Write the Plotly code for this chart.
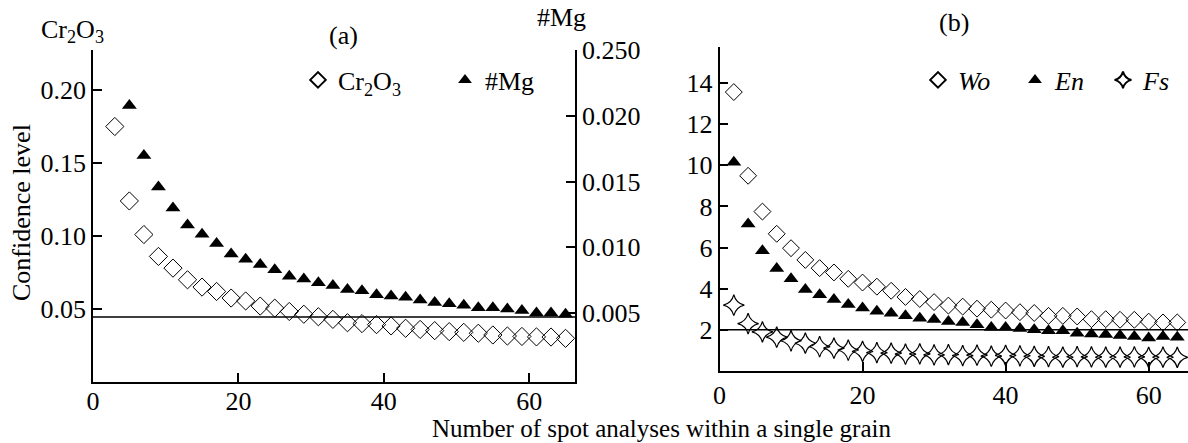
import plotly.graph_objects as go

# ---------------- data ----------------
# Panel (a)
spots_cr2o3 = [3, 5, 7, 9, 11, 13, 15, 17, 19, 21, 23, 25, 27, 29, 31, 33,
               35, 37, 39, 41, 43, 45, 47, 49, 51, 53, 55, 57, 59, 61, 63, 65]
cr2o3 = [0.175, 0.124, 0.101, 0.086, 0.078, 0.070, 0.065, 0.062, 0.0575, 0.0555,
         0.052, 0.0506, 0.0483, 0.0464, 0.0447, 0.0429, 0.0406, 0.0400, 0.0393,
         0.0384, 0.0368, 0.0360, 0.0352, 0.0345, 0.0340, 0.0334, 0.0322, 0.0315,
         0.0312, 0.0309, 0.0308, 0.0299]
spots_mg = [5, 7, 9, 11, 13, 15, 17, 19, 21, 23, 25, 27, 29, 31, 33, 35,
            37, 39, 41, 43, 45, 47, 49, 51, 53, 55, 57, 59, 61, 63, 65]
mg_number = [0.0208, 0.0170, 0.0146, 0.0130, 0.0117, 0.0110, 0.0103, 0.0095,
             0.0091, 0.0087, 0.0083, 0.0078, 0.0076, 0.0073, 0.0071, 0.0068,
             0.0067, 0.0064, 0.0063, 0.0062, 0.0060, 0.0058, 0.0057, 0.0056,
             0.0054, 0.0054, 0.0053, 0.0052, 0.0050, 0.0050, 0.0049]
level_a = 0.0445

# Panel (b)
spots_b = [2, 4, 6, 8, 10, 12, 14, 16, 18, 20, 22, 24, 26, 28, 30, 32,
           34, 36, 38, 40, 42, 44, 46, 48, 50, 52, 54, 56, 58, 60, 62, 64]
wo = [13.56, 9.49, 7.75, 6.67, 5.97, 5.40, 5.00, 4.79, 4.48, 4.30, 4.10, 3.90,
      3.60, 3.50, 3.35, 3.18, 3.13, 3.03, 2.98, 2.94, 2.86, 2.82, 2.68, 2.68,
      2.65, 2.52, 2.52, 2.49, 2.49, 2.40, 2.36, 2.36]
en = [10.15, 7.15, 5.85, 4.98, 4.49, 3.96, 3.71, 3.47, 3.23, 3.06, 2.90, 2.81,
      2.68, 2.57, 2.50, 2.41, 2.36, 2.25, 2.12, 2.12, 2.06, 2.01, 1.96, 1.96,
      1.84, 1.80, 1.77, 1.73, 1.68, 1.60, 1.68, 1.64]
fs = [3.20, 2.30, 1.90, 1.65, 1.47, 1.35, 1.18, 1.11, 1.02, 0.95, 0.89, 0.87,
      0.82, 0.83, 0.78, 0.80, 0.75, 0.77, 0.72, 0.76, 0.74, 0.71, 0.70, 0.67,
      0.70, 0.69, 0.67, 0.67, 0.69, 0.66, 0.67, 0.66]
level_b = 2.0

xticks_a = [0, 20, 40, 60]
yticks_a = [0.05, 0.10, 0.15, 0.20]
yticks_a_text = ["0.05", "0.10", "0.15", "0.20"]
yticks_a2 = [0.005, 0.010, 0.015, 0.020, 0.025]
yticks_a2_text = ["0.005", "0.010", "0.015", "0.020", "0.250"]
xticks_b = [0, 20, 40, 60]
yticks_b = [2, 4, 6, 8, 10, 12, 14]

# ---------------- layout helpers ----------------
W, H = 1188, 443
FONT = "Liberation Serif"
FS = 26


def px(x):
    return x / W


def py(y):
    return 1 - y / H


axis_common = dict(
    showline=True, linecolor="black", linewidth=1.5,
    ticks="inside", ticklen=9, tickwidth=1.5, tickcolor="black",
    showgrid=False, zeroline=False, automargin=False,
    tickfont=dict(family=FONT, size=FS, color="black"),
)

fig = go.Figure()

fig.add_trace(go.Scatter(
    x=spots_cr2o3, y=cr2o3, mode="markers", name="Cr<sub>2</sub>O<sub>3</sub>",
    marker=dict(symbol="diamond-open", size=14, color="black", line=dict(width=1, color="black")),
    xaxis="x", yaxis="y", legend="legend", legendwidth=102))
fig.add_trace(go.Scatter(
    x=spots_mg, y=mg_number, mode="markers", name="#Mg",
    marker=dict(symbol="triangle-up", size=13, color="black"),
    xaxis="x", yaxis="y2", legend="legend", legendwidth=55))

fig.add_trace(go.Scatter(
    x=spots_b, y=wo, mode="markers", name="<i>Wo</i>",
    marker=dict(symbol="diamond-open", size=13, color="black", line=dict(width=1, color="black")),
    xaxis="x2", yaxis="y3", legend="legend2", legendwidth=52))
fig.add_trace(go.Scatter(
    x=spots_b, y=en, mode="markers", name="<i>En</i>",
    marker=dict(symbol="triangle-up", size=13, color="black"),
    xaxis="x2", yaxis="y3", legend="legend2", legendwidth=43))
fig.add_trace(go.Scatter(
    x=spots_b, y=fs, mode="markers", name="<i>Fs</i>",
    marker=dict(symbol="star-diamond-open", size=15, color="black", line=dict(width=1.2, color="black")),
    xaxis="x2", yaxis="y3", legend="legend2", legendwidth=25))

dom_ax = [px(93), px(575)]
dom_ay = [py(382), py(50)]
dom_bx = [px(719.5), 1.0]
dom_by = [py(371), py(47)]

fig.update_layout(
    width=W, height=H,
    margin=dict(l=0, r=0, t=0, b=0, autoexpand=False),
    paper_bgcolor="white", plot_bgcolor="rgba(0,0,0,0)",
    font=dict(family=FONT, size=FS, color="black"),
    xaxis=dict(domain=dom_ax, range=[0, 66.3], anchor="y", tickvals=xticks_a,
               ticklabelstandoff=-5, **axis_common),
    yaxis=dict(domain=dom_ay, range=[0, 0.2274], anchor="x", tickvals=yticks_a,
               ticktext=yticks_a_text, ticklabelstandoff=0, **axis_common),
    yaxis2=dict(range=[-0.00025, 0.02503], overlaying="y", side="right", anchor="x",
                tickvals=yticks_a2, ticktext=yticks_a2_text, ticklabelstandoff=0, **axis_common),
    xaxis2=dict(domain=dom_bx, range=[0, 65.5], anchor="y3", tickvals=xticks_b, **axis_common),
    yaxis3=dict(domain=dom_by, range=[0, 15.75], anchor="x2", tickvals=yticks_b,
                ticklabelstandoff=0, **axis_common),
    legend=dict(orientation="h", x=px(298), y=py(80), xanchor="left", yanchor="middle",
                itemsizing="constant", bgcolor="rgba(0,0,0,0)",
                font=dict(family=FONT, size=FS, color="black")),
    legend2=dict(orientation="h", x=px(918), y=py(80), xanchor="left", yanchor="middle",
                 itemsizing="constant", bgcolor="rgba(0,0,0,0)",
                 font=dict(family=FONT, size=FS, color="black")),
    showlegend=True,
)

fig.add_shape(type="line", xref="x domain", x0=0, x1=1, yref="y", y0=level_a, y1=level_a,
              line=dict(color="black", width=1.5))
fig.add_shape(type="line", xref="x2 domain", x0=0, x1=1, yref="y3", y0=level_b, y1=level_b,
              line=dict(color="black", width=1.5))

ann_font = dict(family=FONT, size=FS, color="black")
annotations = [
    dict(text="Cr<sub>2</sub>O<sub>3</sub>", x=px(72), y=py(31)),
    dict(text="#Mg", x=px(561), y=py(18)),
    dict(text="(a)", x=px(343), y=py(35)),
    dict(text="(b)", x=px(954), y=py(22)),
    dict(text="Number of spot analyses within a single grain", x=px(661), y=py(428),
         font=dict(family=FONT, size=25, color="black"), borderpad=0),
    dict(text="Confidence level", x=px(22), y=py(213), textangle=-90),
]
for a in annotations:
    a.setdefault("font", ann_font)
    fig.add_annotation(xref="paper", yref="paper", showarrow=False,
                       xanchor="center", yanchor="middle", **a)

fig.write_html("out.html", config={"displayModeBar": False},
               post_script="document.body.style.margin='0';document.body.style.overflow='hidden';")
